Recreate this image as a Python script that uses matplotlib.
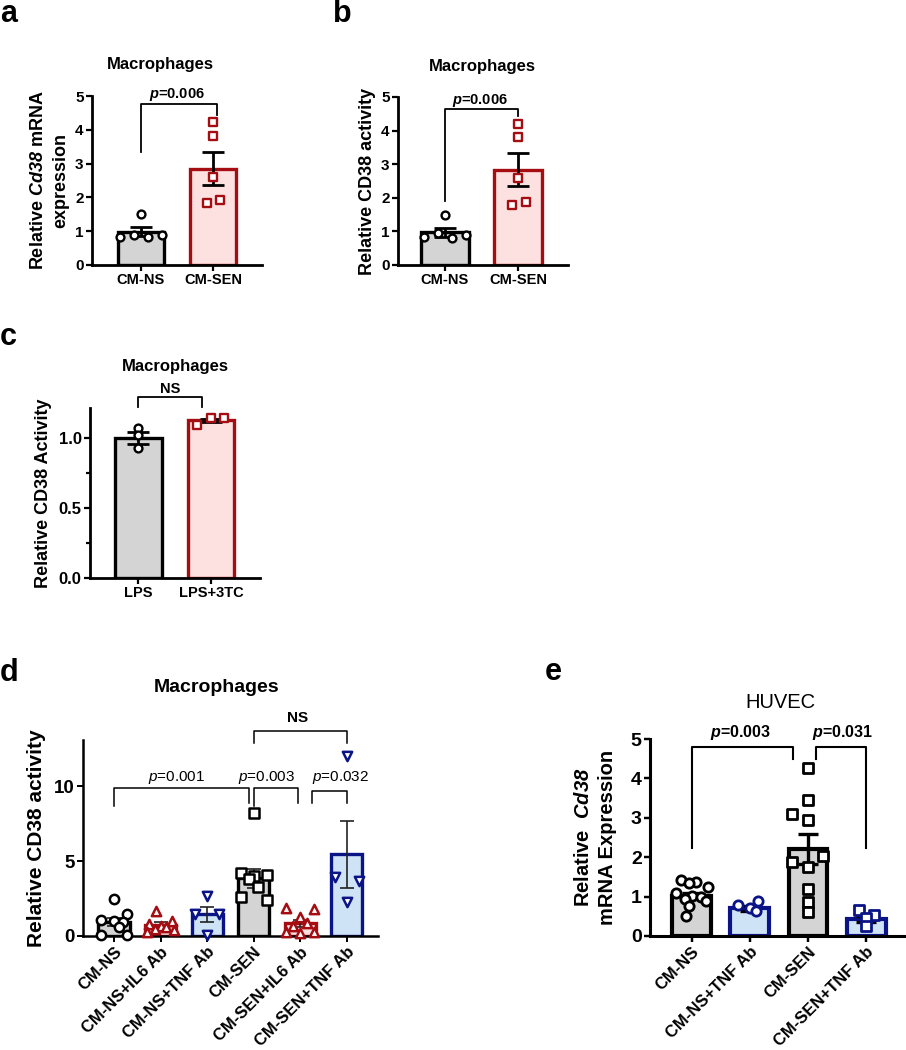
import numpy as np
import matplotlib
matplotlib.use('Agg')
import matplotlib.pyplot as plt

plt.rcParams['font.family'] = ['Liberation Sans', 'DejaVu Sans']
plt.rcParams['mathtext.fontset'] = 'custom'
plt.rcParams['mathtext.rm'] = 'Liberation Sans:bold'
plt.rcParams['mathtext.it'] = 'Liberation Sans:italic'
plt.rcParams['mathtext.bf'] = 'Liberation Sans:bold'
try:
    plt.rcParams['mathtext.bfit'] = 'Liberation Sans:bold:italic'
except Exception:
    pass

# ---------------- data ----------------
# panel a
a_labels = ['CM-NS', 'CM-SEN']
a_means = [0.99, 2.85]
a_sems = [0.14, 0.48]
a_ns = [1.52, 0.84, 0.89, 0.84, 0.89]
a_sen = [4.22, 3.83, 2.61, 1.83, 1.92]
# panel b
b_labels = ['CM-NS', 'CM-SEN']
b_means = [0.97, 2.83]
b_sems = [0.14, 0.49]
b_ns = [1.49, 0.84, 0.95, 0.80, 0.89]
b_sen = [4.20, 3.81, 2.59, 1.79, 1.88]
# panel c
c_labels = ['LPS', 'LPS+3TC']
c_means = [1.00, 1.125]
c_sems = [0.044, 0.012]
c_lps = [1.07, 1.02, 0.93]
c_3tc = [1.09, 1.14, 1.14]
# panel d
d_labels = ['CM-NS', 'CM-NS+IL6 Ab', 'CM-NS+TNF Ab', 'CM-SEN', 'CM-SEN+IL6 Ab', 'CM-SEN+TNF Ab']
d_means = [0.95, 0.72, 1.45, 3.85, 0.85, 5.45]
d_sems = [0.28, 0.20, 0.50, 0.62, 0.22, 2.22]
d_ns = [2.45, 1.50, 1.05, 1.00, 0.95, 0.60, 0.10, 0.10]
d_ns_il6 = [1.70, 1.00, 0.80, 0.70, 0.60, 0.50, 0.40, 0.30]
d_ns_tnf = [2.70, 1.50, 1.50, 0.10]
d_sen = [8.20, 4.20, 4.10, 4.00, 3.80, 3.30, 2.60, 2.40]
d_sen_il6 = [1.85, 1.80, 1.30, 0.90, 0.70, 0.30, 0.30, 0.20]
d_sen_tnf = [12.0, 3.95, 3.70, 2.30]
# panel e
e_labels = ['CM-NS', 'CM-NS+TNF Ab', 'CM-SEN', 'CM-SEN+TNF Ab']
e_means = [1.02, 0.70, 2.20, 0.44]
e_sems = [0.08, 0.06, 0.38, 0.08]
e_ns = [1.42, 1.38, 1.35, 1.25, 1.10, 1.02, 0.98, 0.95, 0.90, 0.75, 0.50]
e_ns_tnf = [0.90, 0.79, 0.72, 0.64]
e_sen = [4.26, 3.46, 3.10, 2.95, 2.02, 1.89, 1.76, 1.20, 0.86, 0.62]
e_sen_tnf = [0.66, 0.53, 0.45, 0.26]

# ---------------- styles / positions ----------------
GRAY_F, GRAY_E = '#d4d4d4', '#000000'
RED_F, RED_E = '#fde1e1', '#a50d12'
BLUE_F, BLUE_E = '#cfe3f7', '#0a1486'

a_jit = [[0.0, -0.29, -0.1, 0.1, 0.29], [0.0, 0.0, 0.0, -0.08, 0.1]]
c_jit = [[0.0, 0.0, 0.0], [-0.19, 0.0, 0.18]]
d_jit = [[0.0, 0.28, -0.28, 0.0, 0.2, 0.1, -0.28, 0.28],
         [-0.1, 0.25, -0.25, 0.0, 0.12, -0.12, 0.28, -0.28],
         [0.0, -0.25, 0.25, 0.0],
         [0.0, -0.28, 0.28, 0.0, -0.1, 0.1, -0.28, 0.28],
         [-0.3, 0.3, 0.0, 0.15, -0.15, -0.3, 0.3, 0.0],
         [0.0, -0.26, 0.26, 0.0]]
e_jit = [[-0.18, 0.07, -0.05, 0.28, -0.27, 0.0, 0.15, -0.12, 0.25, -0.05, -0.1],
         [0.14, -0.2, 0.0, 0.1],
         [0.0, 0.0, -0.27, 0.0, 0.26, -0.27, 0.0, 0.0, 0.0, 0.0],
         [-0.13, 0.13, 0.0, 0.0]]

W, H = 906, 1050
fig = plt.figure(figsize=(W / 100, H / 100), dpi=100)


def add_ax(l, t, r, b):
    return fig.add_axes([l / W, 1 - b / H, (r - l) / W, (b - t) / H])


def style_ax(ax, lw=2.0, yfs=11, xfs=10.5, xpad=2):
    for s in ['top', 'right']:
        ax.spines[s].set_visible(False)
    for s in ['left', 'bottom']:
        ax.spines[s].set_linewidth(lw)
    ax.tick_params(axis='y', direction='out', length=4, width=lw * 0.8,
                   labelsize=yfs, pad=2)
    ax.tick_params(axis='x', direction='out', length=4, width=lw * 0.8,
                   labelsize=xfs, pad=xpad)
    for lab in ax.get_yticklabels() + ax.get_xticklabels():
        lab.set_fontweight('bold')


def draw_group(ax, x, mean, sem, pts, jit, fc, ec, marker, width,
               blw=2.4, elw=2.0, cap=8, ms=32, mlw=1.7, ecol='k'):
    ax.bar(x, mean, width=width, color=fc, edgecolor=ec, linewidth=blw, zorder=2)
    ax.errorbar(x, mean, yerr=sem, color=ecol, elinewidth=elw, capsize=cap,
                capthick=elw, zorder=3, fmt='none')
    ax.scatter(np.full(len(pts), x) + np.array(jit), pts, s=ms, marker=marker,
               facecolor='white', edgecolor=ec, linewidths=mlw, zorder=4, clip_on=False)


def bracket(ax, x1, y1, x2, y2, yt, lw=1.3):
    ax.plot([x1, x1, x2, x2], [y1, yt, yt, y2], color='k', lw=lw, clip_on=False, zorder=5)


# ---------------- panel a ----------------
ax = add_ax(92, 96, 262, 265)
draw_group(ax, 0, a_means[0], a_sems[0], a_ns, a_jit[0], GRAY_F, GRAY_E, 'o', 0.65)
draw_group(ax, 1, a_means[1], a_sems[1], a_sen, a_jit[1], RED_F, RED_E, 's', 0.65)
ax.set_xlim(-0.68, 1.68)
ax.set_ylim(0, 5)
ax.set_yticks([0, 1, 2, 3, 4, 5])
ax.set_xticks([0, 1])
ax.set_xticklabels(a_labels)
style_ax(ax)
bracket(ax, 0, 3.35, 1.05, 4.43, 4.76)
ax.text(0.5, 5.03, r'$\mathbfit{p}$=0.006', ha='center', va='center', fontsize=10.5, fontweight='bold')
ax.set_ylabel('Relative ' + r'$\mathbfit{Cd38}$' + ' mRNA\nexpression', fontsize=13,
              fontweight='bold', linespacing=1.45, labelpad=4)
fig.text(160 / W, 1 - 65 / H, 'Macrophages', ha='center', va='center', fontsize=12, fontweight='bold')
fig.text(0 / W, 1 - 22 / H, 'a', ha='left', va='baseline', fontsize=22, fontweight='bold')

# ---------------- panel b ----------------
ax = add_ax(398, 97, 568, 265)
draw_group(ax, 0, b_means[0], b_sems[0], b_ns, a_jit[0], GRAY_F, GRAY_E, 'o', 0.65)
draw_group(ax, 1, b_means[1], b_sems[1], b_sen, a_jit[1], RED_F, RED_E, 's', 0.65)
ax.set_xlim(-0.64, 1.68)
ax.set_ylim(0, 5)
ax.set_yticks([0, 1, 2, 3, 4, 5])
ax.set_xticks([0, 1])
ax.set_xticklabels(b_labels)
style_ax(ax)
bracket(ax, 0, 1.89, 1.0, 4.43, 4.64)
ax.text(0.48, 4.91, r'$\mathbfit{p}$=0.006', ha='center', va='center', fontsize=10.5, fontweight='bold')
ax.set_ylabel('Relative CD38 activity', fontsize=13, fontweight='bold', labelpad=4)
fig.text(482 / W, 1 - 67 / H, 'Macrophages', ha='center', va='center', fontsize=12, fontweight='bold')
fig.text(333 / W, 1 - 22 / H, 'b', ha='left', va='baseline', fontsize=22, fontweight='bold')

# ---------------- panel c ----------------
ax = add_ax(90, 408, 260, 578)
draw_group(ax, 0, c_means[0], c_sems[0], c_lps, c_jit[0], GRAY_F, GRAY_E, 'o', 0.64)
draw_group(ax, 1, c_means[1], c_sems[1], c_3tc, c_jit[1], RED_F, RED_E, 's', 0.64)
ax.set_xlim(-0.66, 1.67)
ax.set_ylim(0, 1.214)
ax.set_yticks([0.0, 0.5, 1.0])
ax.set_yticklabels(['0.0', '0.5', '1.0'])
ax.set_yticks([0.25, 0.75], minor=True)
ax.set_xticks([0, 1])
ax.set_xticklabels(c_labels)
style_ax(ax, yfs=12)
ax.tick_params(axis='y', which='minor', direction='out', length=3, width=1.6)
bracket(ax, 0, 1.22, 0.88, 1.22, 1.295)
ax.text(0.44, 1.35, 'NS', ha='center', va='center', fontsize=10.5, fontweight='bold')
ax.set_ylabel('Relative CD38 Activity', fontsize=13, fontweight='bold', labelpad=5)
fig.text(175 / W, 1 - 367 / H, 'Macrophages', ha='center', va='center', fontsize=12, fontweight='bold')
fig.text(0 / W, 1 - 345 / H, 'c', ha='left', va='baseline', fontsize=22, fontweight='bold')

# ---------------- panel d ----------------
ax = add_ax(83, 740, 378, 936)
d_pts = [d_ns, d_ns_il6, d_ns_tnf, d_sen, d_sen_il6, d_sen_tnf]
d_fc = [GRAY_F, RED_F, BLUE_F, GRAY_F, RED_F, BLUE_F]
d_ec = [GRAY_E, RED_E, BLUE_E, GRAY_E, RED_E, BLUE_E]
d_mk = ['o', '^', 'v', 's', '^', 'v']
for i in range(len(d_labels)):
    draw_group(ax, i, d_means[i], d_sems[i], d_pts[i], d_jit[i], d_fc[i], d_ec[i], d_mk[i],
               0.67, blw=2.4, elw=1.2, cap=5, ms=45, mlw=1.8, ecol='#222222')
ax.set_xlim(-0.665, 5.67)
ax.set_ylim(0, 13.07)
ax.set_yticks([0, 5, 10])
ax.set_xticks(range(len(d_labels)))
ax.set_xticklabels(d_labels, rotation=45, ha='right', rotation_mode='anchor')
style_ax(ax, lw=1.8, yfs=13.5, xfs=12, xpad=2)
bracket(ax, 0, 8.7, 2.9, 8.85, 9.87, lw=1.1)
bracket(ax, 3.0, 8.7, 3.95, 8.85, 9.87, lw=1.1)
bracket(ax, 4.25, 8.9, 5.0, 8.9, 9.67, lw=1.1)
bracket(ax, 3.0, 12.87, 5.0, 12.87, 13.67, lw=1.1)
ax.text(1.35, 10.55, r'$\mathit{p}$=0.001', ha='center', va='center', fontsize=11, fontweight='normal')
ax.text(3.28, 10.55, r'$\mathit{p}$=0.003', ha='center', va='center', fontsize=11, fontweight='normal')
ax.text(4.87, 10.6, r'$\mathit{p}$=0.032', ha='center', va='center', fontsize=11, fontweight='normal')
ax.text(3.95, 14.53, 'NS', ha='center', va='center', fontsize=11, fontweight='bold')
ax.set_ylabel('Relative CD38 activity', fontsize=15, fontweight='bold', labelpad=6)
fig.text(217 / W, 1 - 688 / H, 'Macrophages', ha='center', va='center', fontsize=14, fontweight='bold')
fig.text(0 / W, 1 - 681 / H, 'd', ha='left', va='baseline', fontsize=22, fontweight='bold')

# ---------------- panel e ----------------
ax = add_ax(650, 739, 905, 936)
e_pts = [e_ns, e_ns_tnf, e_sen, e_sen_tnf]
e_fc = [GRAY_F, BLUE_F, GRAY_F, BLUE_F]
e_ec = [GRAY_E, BLUE_E, GRAY_E, BLUE_E]
e_mk = ['o', 'o', 's', 's']
for i in range(len(e_labels)):
    draw_group(ax, i, e_means[i], e_sems[i], e_pts[i], e_jit[i], e_fc[i], e_ec[i], e_mk[i],
               0.67, blw=3.0, elw=2.4, cap=7, ms=45, mlw=2.0)
ax.set_xlim(-0.72, 3.67)
ax.set_ylim(0, 5)
ax.set_yticks([0, 1, 2, 3, 4, 5])
ax.set_xticks(range(len(e_labels)))
ax.set_xticklabels(e_labels, rotation=45, ha='right', rotation_mode='anchor')
style_ax(ax, lw=2.2, yfs=14, xfs=12, xpad=2)
bracket(ax, 0, 2.23, 1.74, 4.49, 4.8, lw=1.5)
bracket(ax, 2.14, 4.49, 3.0, 2.23, 4.8, lw=1.5)
ax.text(0.83, 5.17, r'$\mathbfit{p}$=0.003', ha='center', va='center', fontsize=11.5, fontweight='bold')
ax.text(2.6, 5.17, r'$\mathbfit{p}$=0.031', ha='center', va='center', fontsize=11.5, fontweight='bold')
ax.set_ylabel('Relative  ' + r'$\mathbfit{Cd38}$' + '\nmRNA Expression', fontsize=14.5,
              fontweight='bold', linespacing=1.35, labelpad=10)
fig.text(780 / W, 1 - 703 / H, 'HUVEC', ha='center', va='center', fontsize=14.5, fontweight='normal')
fig.text(545 / W, 1 - 680 / H, 'e', ha='left', va='baseline', fontsize=22, fontweight='bold')

fig.savefig('out.png', dpi=100)
